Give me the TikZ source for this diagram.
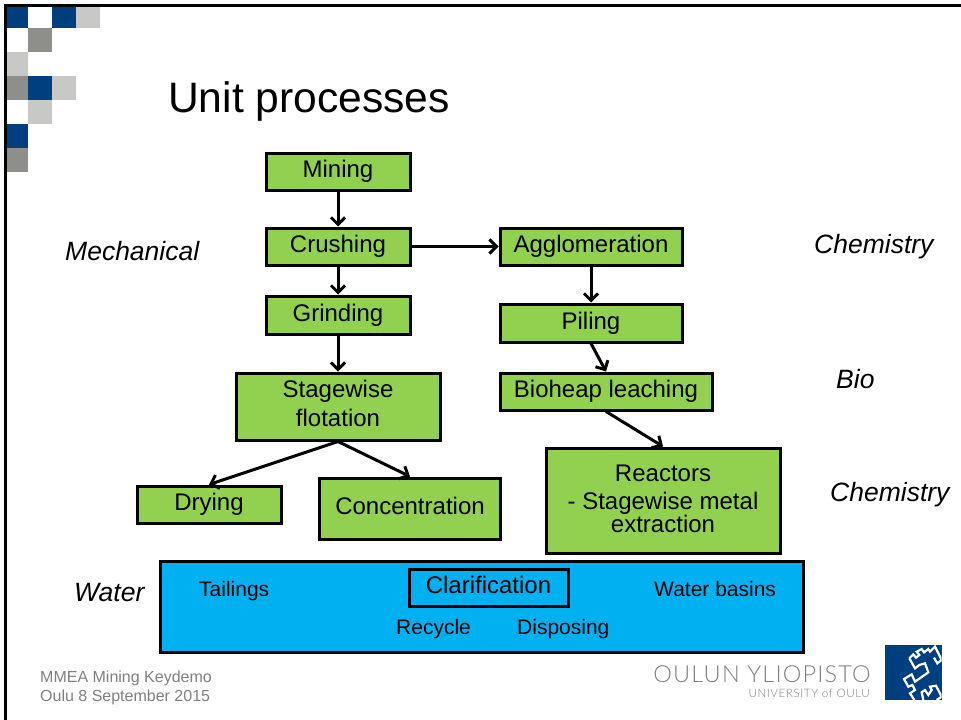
\documentclass[tikz,border=0pt]{standalone}
\usepackage{fontspec}
\setmainfont{Liberation Sans}
\newfontfamily\logofont[LetterSpace=5]{Lato Light}
\usetikzlibrary{arrows.meta}
\definecolor{procgreen}{HTML}{92D050}
\definecolor{waterblue}{HTML}{00B0F0}
\definecolor{oulublue}{HTML}{003F7F}
\definecolor{squaredark}{HTML}{8E8E8A}
\definecolor{squarelight}{HTML}{C8C8C6}
\tikzset{
    procbox/.style={draw=black,fill=procgreen,line width=3pt,inner sep=0pt,align=center,font=\fontsize{24}{28}\selectfont},
    procline/.style={procbox,text height=18pt,text depth=6pt},
    flow/.style={->,line width=3pt},
    sidelabel/.style={anchor=base west,inner sep=0pt,font=\fontsize{26.5}{30}\itshape},
    waterlabel/.style={anchor=base west,inner sep=0pt,font=\fontsize{21}{25}\selectfont},
    footlabel/.style={anchor=base west,inner sep=0pt,text=gray,font=\fontsize{16}{19}\selectfont},
}
\begin{document}
\begin{tikzpicture}[x=1pt,y=-1pt,>={Straight Barb[length=7pt,width=14pt]}]

    \useasboundingbox (0,0) rectangle (961,720);

    \foreach \col/\row/\shade in {0/0/oulublue,2/0/oulublue,3/0/squarelight,1/1/squaredark,0/2/squarelight,0/3/squaredark,1/3/oulublue,2/3/squarelight,1/4/squarelight,0/5/oulublue,0/6/squaredark}
        \fill[\shade] ({4+24*\col},{4+24*\row}) rectangle ++(24,24);
    \draw[line width=2.6pt] (5.5,720) -- (5.5,5.3) -- (961,5.3);

    \node[anchor=base west,inner sep=0pt,font=\fontsize{42.6}{50}\selectfont] (title) at (168,112) {Unit processes};

    \node[procline,minimum width=144pt,minimum height=37pt] (mining) at (338,171.5) {Mining};
    \node[procline,minimum width=144pt,minimum height=37pt] (crushing) at (338,246.5) {Crushing};
    \node[procline,minimum width=144pt,minimum height=38pt] (grinding) at (338,315) {Grinding};
    \node[procbox,minimum width=204pt,minimum height=67pt] (flotation) at (338,406.5) {Stagewise\\[1pt]flotation\rule[-7pt]{0pt}{1pt}};
    \node[procline,minimum width=144pt,minimum height=37pt] (drying) at (209,504.5) {Drying};
    \node[procline,minimum width=181pt,minimum height=61pt] (concentration) at (410,508.5) {Concentration};
    \node[procline,minimum width=182pt,minimum height=37pt] (agglomeration) at (591,246.5) {Agglomeration};
    \node[procline,minimum width=182pt,minimum height=38pt] (piling) at (591,323) {Piling};
    \node[procline,minimum width=212pt,minimum height=37pt] (bioheap) at (606,391.5) {Bioheap leaching};
    \node[procbox,minimum width=234pt,minimum height=105pt] (reactors) at (663,500.5) {Reactors\\- Stagewise metal\\[-5pt]extraction\rule[-4pt]{0pt}{1pt}};

    \draw[flow] (mining) -- (crushing);
    \draw[flow] (crushing) -- (grinding);
    \draw[flow] (grinding) -- (flotation);
    \draw[flow] (flotation.south) -- (drying.north);
    \draw[flow] (flotation.south) -- (concentration.north);
    \draw[flow] (crushing) -- (agglomeration);
    \draw[flow] (agglomeration) -- (piling);
    \draw[flow] (piling.south) -- (bioheap.north);
    \draw[flow] (bioheap.south) -- (reactors.north);

    \node[draw=black,fill=waterblue,line width=3pt,minimum width=643pt,minimum height=91pt] (water) at (481.5,606.5) {};
    \node[procline,fill=none,minimum width=159pt,minimum height=37pt] (clarification) at (488.5,587.5) {Clarification};
    \node[waterlabel] (tailings) at (199,596) {Tailings};
    \node[waterlabel] (basins) at (654,596) {Water basins};
    \node[waterlabel] (recycle) at (396,634) {Recycle};
    \node[waterlabel] (disposing) at (517,634) {Disposing};

    \node[sidelabel] (mechanical) at (65,260) {Mechanical};
    \node[sidelabel] (chemistrytop) at (814,253) {Chemistry};
    \node[sidelabel] (bio) at (836,388) {Bio};
    \node[sidelabel] (chemistrylow) at (830,501) {Chemistry};
    \node[sidelabel] (waterside) at (74,601) {Water};

    \node[footlabel] (footevent) at (40,682) {MMEA Mining Keydemo};
    \node[footlabel] (footdate) at (40,701) {Oulu 8 September 2015};

    \node[anchor=base east,inner sep=0pt,text=gray,font=\logofont\fontsize{23.5}{28}\selectfont] (logoname) at (871,682) {OULUN YLIOPISTO};
    \node[anchor=base east,inner sep=0pt,text=gray,font=\logofont\fontsize{11.6}{14}\selectfont] (logouni) at (870,697) {UNIVERSITY of OULU};

    \fill[oulublue] (885,645) rectangle (942,700);
    \begin{scope}[shift={(880,635)},x=0.3333pt,y=-0.3333pt]
        \clip (15,30) rectangle (185,195);
        \draw[white,line width=2.2pt] (88,70) -- (100,58) -- (108,68) -- (118,60) -- (110,50) -- (125,42) -- (132,52) -- (145,42) -- (150,50) -- (165,35) -- (185,75) -- (172,85) -- (162,68);
        \draw[white,line width=2.2pt] (88,70) -- (105,100) -- (118,90) -- (135,85) -- (145,112) -- (105,140) -- (95,118) -- (72,132) -- (85,155) -- (97,150) -- (105,165) -- (90,175) -- (103,195);
        \draw[white,line width=2.2pt] (130,195) -- (125,172) -- (135,165) -- (145,180) -- (155,165) -- (150,155) -- (168,152) -- (185,185) -- (170,195);
    \end{scope}

\end{tikzpicture}
\end{document}
